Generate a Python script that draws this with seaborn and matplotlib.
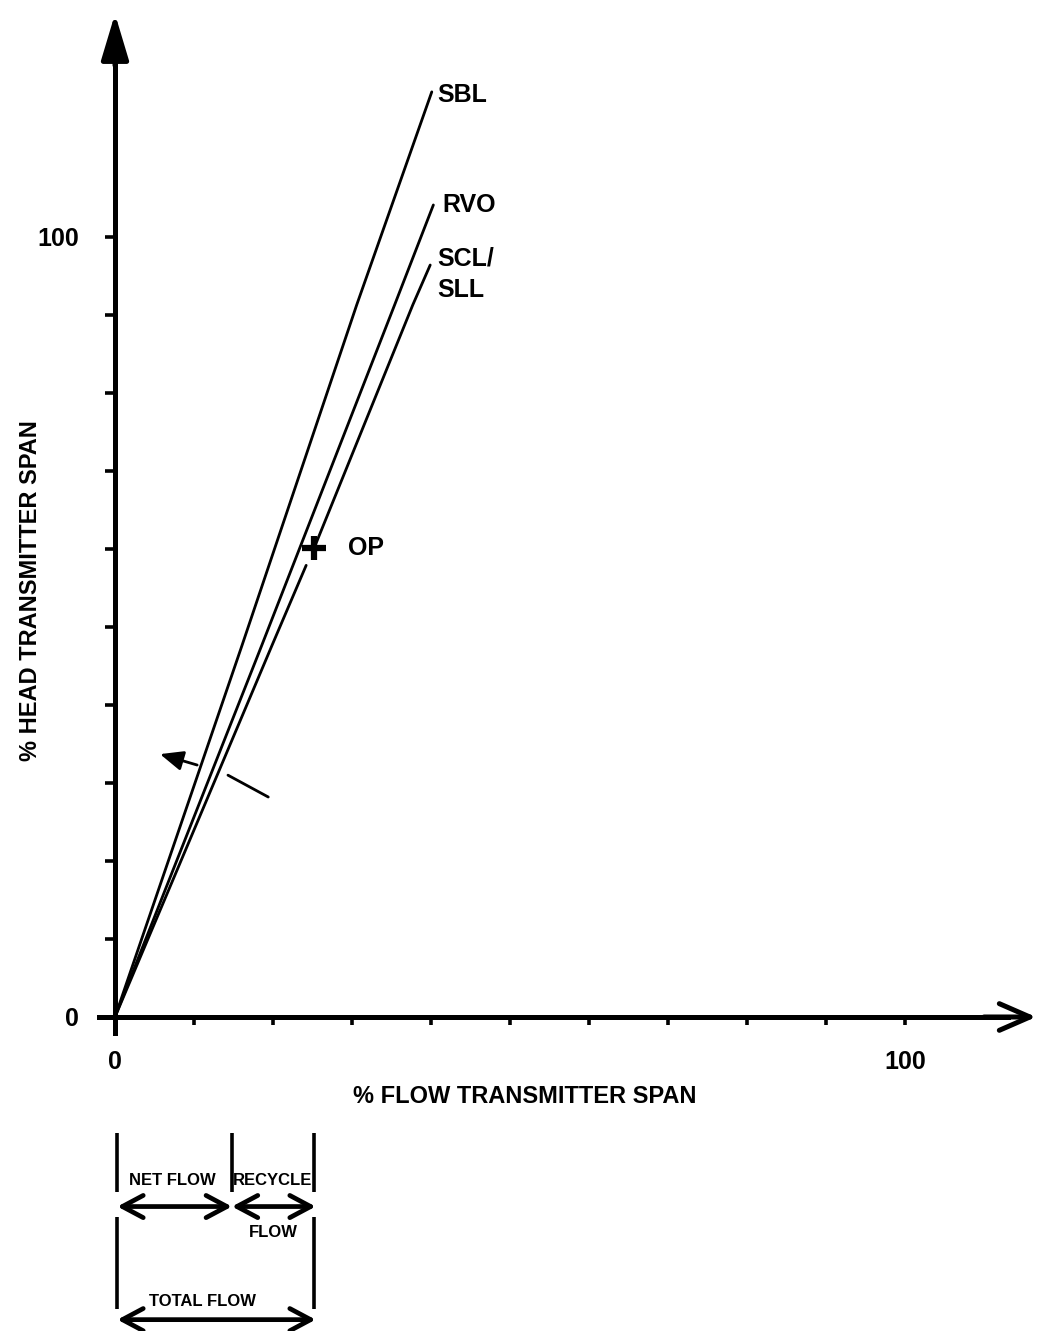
import matplotlib
matplotlib.use("Agg")
import matplotlib.pyplot as plt
import seaborn as sns
import pandas as pd

# ---- data ----
sbl_x = [0, 16.1, 30.6, 40.1]
sbl_y = [0, 47.7, 91.3, 118.6]
rvo_x = [0, 18.6, 35.4, 40.3]
rvo_y = [0, 47.7, 91.3, 104.1]
scl_low_x = [0, 19.9, 24.2]
scl_low_y = [0, 47.7, 57.9]
scl_up_x = [25.2, 37.7, 39.9]
scl_up_y = [60.1, 91.3, 96.4]
op_point = (25.2, 60.1)
net_flow = 14.8
total_flow = 25.2

x_ticks = [0, 10, 20, 30, 40, 50, 60, 70, 80, 90, 100]
y_ticks = [0, 10, 20, 30, 40, 50, 60, 70, 80, 90, 100]
x_tick_labels = ["0", "", "", "", "", "", "", "", "", "", "100"]
y_tick_labels = ["0", "", "", "", "", "", "", "", "", "", "100"]

curve_labels = [("SBL", 40.8, 118.2), ("RVO", 41.5, 104.1), ("SCL/", 40.8, 97.3), ("SLL", 40.8, 93.2)]

rows = []
for name, xs, ys in [("SBL", sbl_x, sbl_y), ("RVO", rvo_x, rvo_y),
                     ("SCL_low", scl_low_x, scl_low_y), ("SCL_up", scl_up_x, scl_up_y)]:
    for i, (a, b) in enumerate(zip(xs, ys)):
        rows.append({"curve": name, "x": a, "y": b, "order": i})
df = pd.DataFrame(rows)

sns.set_theme(style="white")
plt.rcParams["font.family"] = ["Liberation Sans", "DejaVu Sans"]

fig = plt.figure(figsize=(10.42, 13.31), dpi=100)
ax = fig.add_axes([0.0952, 0.2242, 0.9022, 0.7736])
ax.set_xlim(-2, 117)
ax.set_ylim(-2, 130)

sns.lineplot(data=df, x="x", y="y", units="curve", estimator=None, sort=False,
             color="black", linewidth=2.0, ax=ax, legend=False)

# axes as spines through the origin
for s in ["top", "right"]:
    ax.spines[s].set_visible(False)
ax.spines["left"].set_position(("data", 0))
ax.spines["bottom"].set_position(("data", 0))
ax.spines["left"].set_bounds(-2, 125)
ax.spines["bottom"].set_bounds(-2, 113)
for s in ["left", "bottom"]:
    ax.spines[s].set_linewidth(3.6)
    ax.spines[s].set_color("black")

ax.annotate("", xy=(0, 128.6), xytext=(0, 122), xycoords="data",
            arrowprops=dict(arrowstyle="-|>,head_length=1.4,head_width=0.42",
                            mutation_scale=20, lw=3.6, color="black",
                            shrinkA=0, shrinkB=0), annotation_clip=False)
ax.annotate("", xy=(116.6, 0), xytext=(110, 0), xycoords="data",
            arrowprops=dict(arrowstyle="->,head_length=1.1,head_width=0.48",
                            mutation_scale=20, lw=3.6, color="black",
                            shrinkA=0, shrinkB=0), annotation_clip=False)

ax.set_xticks(x_ticks)
ax.set_xticklabels(x_tick_labels)
ax.set_yticks(y_ticks)
ax.set_yticklabels(y_tick_labels)
ax.tick_params(axis="x", bottom=True, direction="out", length=6, width=2.6, pad=18,
               labelsize=18, colors="black")
ax.tick_params(axis="y", left=True, direction="out", length=7, width=2.6, pad=19,
               labelsize=18, colors="black")
for lab in ax.get_xticklabels() + ax.get_yticklabels():
    lab.set_fontweight("bold")

ax.set_xlabel("% FLOW TRANSMITTER SPAN", fontsize=17, fontweight="bold", color="black")
ax.xaxis.set_label_coords(0.4529, -0.0625)
ax.xaxis.label.set_va("center")
ax.set_ylabel("% HEAD TRANSMITTER SPAN", fontsize=17, fontweight="bold", color="black")
ax.yaxis.set_label_coords(-0.0736, 0.4289)
ax.yaxis.label.set_va("center")

# curve labels
for txt, tx, ty in curve_labels:
    ax.text(tx, ty, txt, fontsize=18, fontweight="bold", ha="left", va="center", color="black")

# operating point
ax.plot([op_point[0]], [op_point[1]], marker="+", markersize=17, mew=4.5, color="black")
ax.text(29.5, 60.1, "OP", fontsize=18, fontweight="bold", ha="left", va="center", color="black")

# direction arrow and slash
ax.annotate("", xy=(5.7, 33.7), xytext=(10.4, 32.3),
            arrowprops=dict(arrowstyle="-|>,head_length=0.7,head_width=0.3",
                            mutation_scale=20, lw=2.0, color="black",
                            shrinkA=0, shrinkB=0))
ax.plot([14.3, 19.4], [31.0, 28.2], color="black", lw=2.0)

# flow diagram below the chart
small = dict(family=["Liberation Sans Narrow", "Liberation Sans", "DejaVu Sans"],
             fontsize=12, fontweight="bold", color="black", ha="center", va="center")
bar_kw = dict(color="black", lw=2.6, clip_on=False, solid_capstyle="butt")
ax.plot([0.3, 0.3], [-14.9, -22.4], **bar_kw)
ax.plot([0.3, 0.3], [-25.6, -37.4], **bar_kw)
ax.plot([net_flow, net_flow], [-14.9, -22.4], **bar_kw)
ax.plot([total_flow, total_flow], [-14.9, -22.4], **bar_kw)
ax.plot([total_flow, total_flow], [-25.6, -37.4], **bar_kw)

arr = dict(arrowstyle="<->,head_length=0.75,head_width=0.4", mutation_scale=20,
           lw=3.4, color="black", shrinkA=0, shrinkB=0)
ax.annotate("", xy=(0.3, -24.3), xytext=(net_flow, -24.3), arrowprops=arr, annotation_clip=False)
ax.annotate("", xy=(net_flow, -24.3), xytext=(total_flow + 0.2, -24.3), arrowprops=arr, annotation_clip=False)
ax.annotate("", xy=(0.3, -38.8), xytext=(total_flow + 0.2, -38.8), arrowprops=arr, annotation_clip=False)

ax.text(7.3, -20.9, "NET FLOW", **small)
ax.text(20.0, -20.9, "RECYCLE", **small)
ax.text(20.0, -27.6, "FLOW", **small)
ax.text(11.1, -36.5, "TOTAL FLOW", **small)

fig.savefig("out.png", dpi=100, facecolor="white")
